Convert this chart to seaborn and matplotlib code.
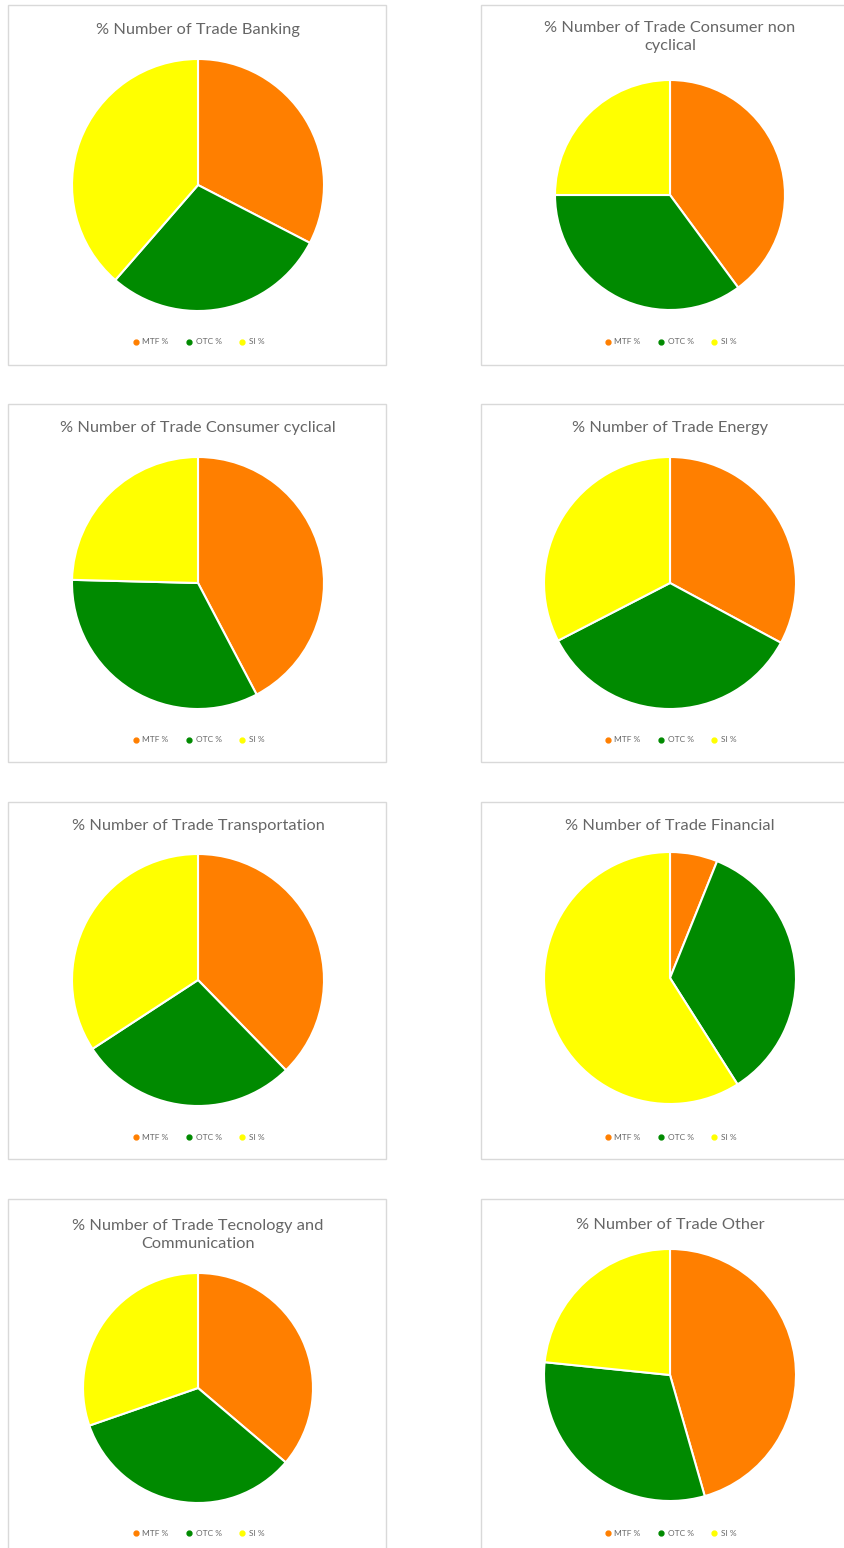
import matplotlib
matplotlib.use("Agg")
import matplotlib.pyplot as plt
from matplotlib.patches import Rectangle
from matplotlib.lines import Line2D
import seaborn as sns

sns.set_theme(style="white")
plt.rcParams["font.family"] = ["Lato", "DejaVu Sans"]

# Share of number of trades by venue type, per sector (%)
sectors = ["Banking", "Consumer non\ncyclical", "Consumer cyclical", "Energy",
           "Transportation", "Financial", "Tecnology and\nCommunication", "Other"]
mtf = [32.6, 39.9, 42.3, 32.9, 37.7, 6.1, 36.2, 45.6]
otc = [28.8, 35.1, 33.1, 34.6, 28.1, 34.9, 33.5, 31.1]
si = [38.6, 25.0, 24.6, 32.6, 34.2, 59.0, 30.3, 23.4]
labels = ["MTF %", "OTC %", "SI %"]
colors = ["#FF7F00", "#008A00", "#FFFF00"]

W, H = 845, 1548
fig = plt.figure(figsize=(W / 100, H / 100), dpi=100)


def fx(px):
    return px / W


def fy(py):
    return 1 - py / H


# panel boxes: (left, right) and (top, bottom) in pixels
col_x = [(8, 386), (481, 852)]
row_y = [(5, 365), (404, 762), (802, 1159), (1199, 1556)]
# pie centre (x, y) and radius in pixels
pies = [((198, 185), 126), ((670, 195), 115),
        ((198, 583), 126), ((670, 583), 126),
        ((198, 980), 126), ((670, 978), 126),
        ((198, 1388), 115), ((670, 1375), 126)]
title_y = [30, 37, 428, 428, 826, 826, 1235, 1225]
legend_y = [342, 342, 740, 740, 1137, 1137, 1533, 1533]

for i, name in enumerate(sectors):
    r, c = divmod(i, 2)
    x0, x1 = col_x[c]
    y0, y1 = row_y[r]
    fig.patches.append(Rectangle((fx(x0), fy(y1)), fx(x1) - fx(x0), fy(y0) - fy(y1),
                                 transform=fig.transFigure, facecolor="none",
                                 edgecolor="#D9D9D9", linewidth=1.0, zorder=-1))
    (cx, cy), rad = pies[i]
    ax = fig.add_axes([fx(cx - rad), fy(cy + rad), 2 * rad / W, 2 * rad / H])
    vals = [mtf[i], otc[i], si[i]]
    ax.pie(vals, colors=colors, startangle=90, counterclock=False,
           wedgeprops=dict(edgecolor="white", linewidth=1.5))
    ax.set_xlim(-1, 1)
    ax.set_ylim(-1, 1)
    ax.set_aspect("equal")
    ax.axis("off")
    ax.set_zorder(2)

    fig.text(fx(cx), fy(title_y[i]), "% Number of Trade " + name,
             ha="center", va="center", fontsize=11.8, color="#666666",
             linespacing=1.3)

    handles = [Line2D([], [], marker="o", linestyle="none", markersize=3.5,
                      markerfacecolor=col, markeredgecolor=col) for col in colors]
    fig.legend(handles, labels, loc="center", ncol=3,
               bbox_to_anchor=(fx(cx), fy(legend_y[i])),
               frameon=False, fontsize=6, labelcolor="#666666",
               handletextpad=0.25, columnspacing=2.0, handlelength=1.0)

fig.savefig("out.png", dpi=100, facecolor="white")
